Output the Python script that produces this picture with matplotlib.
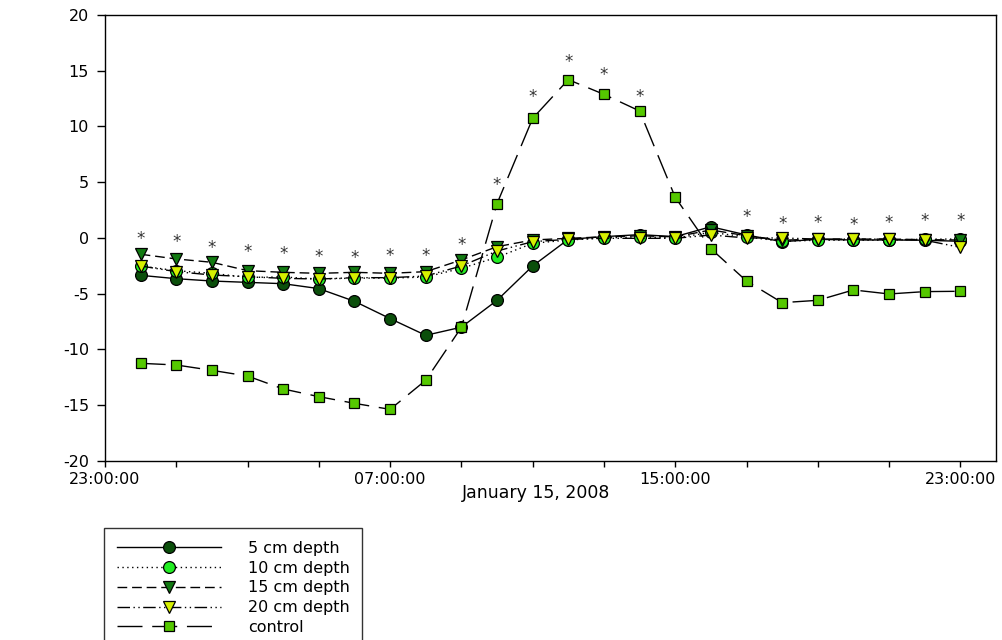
import matplotlib
matplotlib.use("Agg")
import matplotlib.pyplot as plt
import matplotlib.dates as mdates
import pandas as pd

plt.rcParams["font.family"] = ["DejaVu Sans"]
plt.rcParams["axes.unicode_minus"] = False

# hourly readings, January 15, 2008
times = pd.date_range("2008-01-15 00:00", periods=24, freq="h")

depth_5 = [-3.35, -3.65, -3.86, -3.98, -4.10, -4.54, -5.68, -7.23, -8.73, -8.00,
           -5.59, -2.51, -0.12, 0.12, 0.30, 0.12, 1.01, 0.27, -0.33, -0.12,
           -0.18, -0.18, -0.20, -0.30]
depth_10 = [-2.51, -2.93, -3.17, -3.53, -3.50, -3.68, -3.60, -3.60, -3.50, -2.72,
            -1.73, -0.48, -0.18, 0.00, 0.10, 0.00, 0.50, 0.10, -0.30, -0.20,
            -0.20, -0.20, -0.10, -0.10]
depth_15 = [-1.46, -1.88, -2.18, -2.93, -3.08, -3.17, -3.08, -3.17, -3.02, -1.97,
            -0.78, -0.18, -0.03, 0.10, 0.20, 0.10, 0.72, 0.20, -0.20, -0.10,
            -0.10, -0.10, -0.15, -0.18]
depth_20 = [-2.51, -3.02, -3.32, -3.47, -3.62, -3.68, -3.56, -3.56, -3.41, -2.51,
            -1.17, -0.33, -0.12, -0.03, -0.03, -0.03, 0.27, 0.00, 0.00, -0.10,
            -0.10, -0.10, -0.20, -0.84]
control = [-11.24, -11.39, -11.87, -12.38, -13.54, -14.23, -14.83, -15.37, -12.76, -8.01,
           3.08, 10.73, 14.20, 12.88, 11.39, 3.65, -0.96, -3.86, -5.80, -5.59,
           -4.66, -5.02, -4.81, -4.78]

# significance marks (None = no mark)
star_y = [0.27, -0.03, -0.57, -0.92, -1.08, -1.37, -1.46, -1.23, -1.23, -0.24,
          5.14, 13.04, 16.10, 15.00, 13.04, None, None, 2.27, 1.61, 1.68,
          1.52, 1.68, 1.86, 1.86]

labels = ["5 cm depth", "10 cm depth", "15 cm depth", "20 cm depth", "control"]

fig = plt.figure(figsize=(10.02, 6.4), dpi=100)
ax = fig.add_axes([0.1048, 0.2797, 0.8892, 0.6969])

ax.plot(times, depth_5, color="black", lw=1.0, linestyle="-",
        marker="o", ms=8.5, mfc="#0b4f0b", mec="black", mew=0.9, label=labels[0])
ax.plot(times, depth_10, color="black", lw=1.0, linestyle=(0, (1, 2.5)),
        marker="o", ms=8.5, mfc="#22ee22", mec="black", mew=0.9, label=labels[1])
ax.plot(times, depth_15, color="black", lw=1.0, linestyle=(0, (7, 3.5)),
        marker="v", ms=9, mfc="#127a12", mec="black", mew=0.9, label=labels[2])
ax.plot(times, depth_20, color="black", lw=1.0, linestyle=(0, (9, 2.5, 1, 2.5, 1, 2.5)),
        marker="v", ms=9, mfc="#d6f000", mec="black", mew=0.9, label=labels[3])
ax.plot(times, control, color="black", lw=1.0, linestyle=(0, (18, 7)),
        marker="s", ms=7.5, mfc="#55c800", mec="black", mew=0.9, label=labels[4])

# asterisk glyph sits high in its box, so shift it down onto the value
for t, s in zip(times, star_y):
    if s is not None:
        ax.annotate("*", (t, s), xytext=(0, -6.5), textcoords="offset points",
                    ha="center", va="baseline", fontsize=12, color="#333333")

ax.set_xlim(pd.Timestamp("2008-01-14 23:00"), pd.Timestamp("2008-01-16 00:00"))
ax.set_ylim(-20, 20)
ax.set_yticks(range(-20, 21, 5))
ax.xaxis.set_major_locator(mdates.HourLocator(byhour=[7, 15, 23]))
ax.xaxis.set_minor_locator(mdates.HourLocator(byhour=range(1, 24, 2)))
ax.xaxis.set_major_formatter(mdates.DateFormatter("%H:%M:%S"))

ax.tick_params(axis="y", which="major", direction="out", length=5.5, width=1, pad=6, labelsize=11.5)
ax.tick_params(axis="x", which="both", direction="out", length=4, width=1, pad=4, labelsize=11.5)
for sp in ax.spines.values():
    sp.set_linewidth(1.0)

ax.set_xlabel("January 15, 2008", fontsize=12.5)
ax.xaxis.set_label_coords(0.484, -0.052)

leg = ax.legend(loc="upper left", bbox_to_anchor=(104 / 1002, 1 - 528 / 640),
                bbox_transform=fig.transFigure, fontsize=11.5, frameon=True,
                fancybox=False, edgecolor="black", handlelength=6.5,
                handletextpad=1.7, labelspacing=0.3, borderpad=0.8,
                borderaxespad=0)
leg.get_frame().set_linewidth(1.0)

plt.savefig("out.png", dpi=100)
